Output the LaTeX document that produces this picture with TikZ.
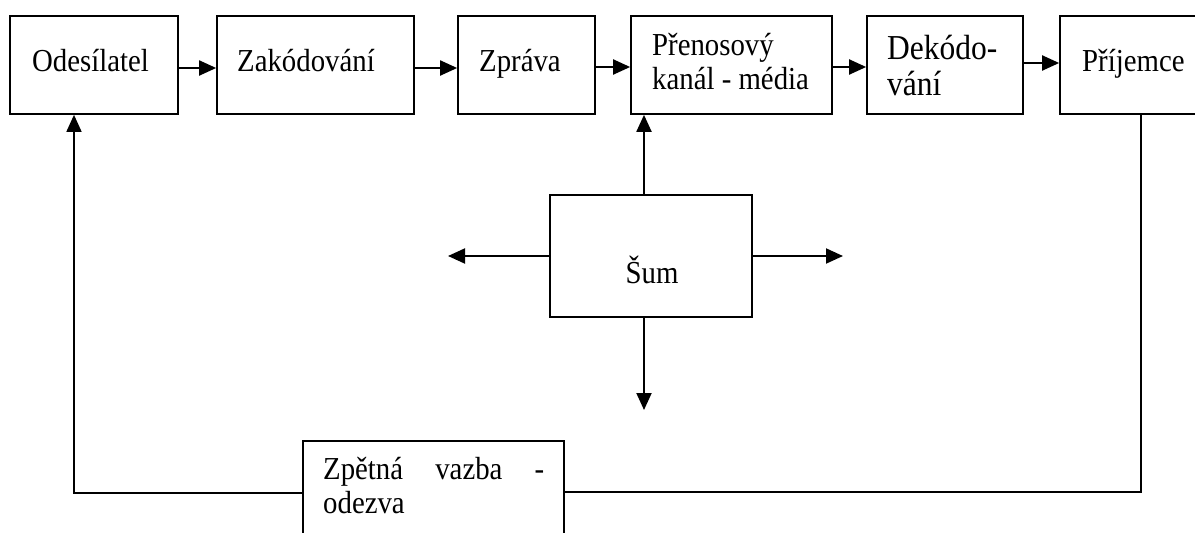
\documentclass[tikz,border=0pt]{standalone}
\usepackage{fontspec}
\setmainfont{Liberation Serif}[FakeStretch=0.9]
\usetikzlibrary{arrows.meta}
\tikzset{
  box/.style={draw, rectangle, line width=1.7pt, inner sep=0pt},
  txt/.style={inner sep=0pt, anchor=base west, font=\fontsize{32}{35}\selectfont},
  bigtxt/.style={inner sep=0pt, anchor=base west, font=\fontsize{35}{36}\selectfont},
  arr/.style={line width=2pt, -{Triangle[length=17pt,width=15pt]}},
  fbline/.style={line width=1.6pt},
}
\begin{document}
\begin{tikzpicture}[x=1pt,y=-1pt]
\useasboundingbox (0,0) rectangle (1195,533);
\clip (0,0) rectangle (1195,533);
% boxes
\node[box, minimum width=168pt, minimum height=98pt] (odes) at (94,65) {};
\node[box, minimum width=197pt, minimum height=98pt] (zak) at (315.5,65) {};
\node[box, minimum width=137pt, minimum height=98pt] (zpr) at (526.5,65) {};
\node[box, minimum width=201pt, minimum height=98pt] (pre) at (731.5,65) {};
\node[box, minimum width=156pt, minimum height=98pt] (dek) at (945,65) {};
\node[box, minimum width=140pt, minimum height=98pt] (pri) at (1130,65) {};
\node[box, minimum width=202pt, minimum height=122pt] (sum) at (651,256) {};
\node[box, minimum width=261pt, minimum height=159pt] (fb) at (433.5,520.5) {};
% texts
\node[txt] (t1) at (32,71) {Odesílatel};
\node[txt] (t2) at (237,71) {Zakódování};
\node[txt] (t3) at (479,71) {Zpráva};
\node[txt] (t4a) at (652,55) {Přenosový};
\node[txt] (t4b) at (652,89) {kanál - média};
\node[bigtxt] (t5a) at (887,59) {Dekódo-};
\node[bigtxt] (t5b) at (887,95) {vání};
\node[txt] (t6) at (1082,71) {Příjemce};
\node[txt, anchor=base] (t7) at (652,283) {Šum};
\node[txt] (t8a) at (323,479) {\hbox to 221pt{Zpětná\hfill vazba\hfill -}};
\node[txt] (t8b) at (323,513) {odezva};
% main chain
\draw[arr] ([yshift=-3pt]odes.east) -- ([yshift=-3pt]zak.west);
\draw[arr] ([yshift=-3pt]zak.east) -- ([yshift=-3pt]zpr.west);
\draw[arr] ([yshift=-2pt]zpr.east) -- ([yshift=-2pt]pre.west);
\draw[arr] ([yshift=-2pt]pre.east) -- ([yshift=-2pt]dek.west);
\draw[arr] ([yshift=2pt]dek.east) -- ([yshift=2pt]pri.west);
% noise
\coordinate (nl) at (448,256);
\coordinate (nr) at (843,256);
\coordinate (nd) at (644,410);
\draw[arr] ([xshift=-7pt]sum.north) -- ([xshift=-7pt]sum.north |- pre.south);
\draw[arr] (sum.west) -- (nl);
\draw[arr] (sum.east) -- (nr);
\draw[arr] ([xshift=-7pt]sum.south) -- (nd);
% feedback
\draw[fbline] (1141,0 |- pri.south) -- (1141,492) -- (fb.east |- 0,492);
\draw[fbline, -{Triangle[length=17pt,width=15pt]}] (fb.west |- 0,493) -- (74,493) -- ([xshift=-20pt]odes.south);
\end{tikzpicture}
\end{document}
